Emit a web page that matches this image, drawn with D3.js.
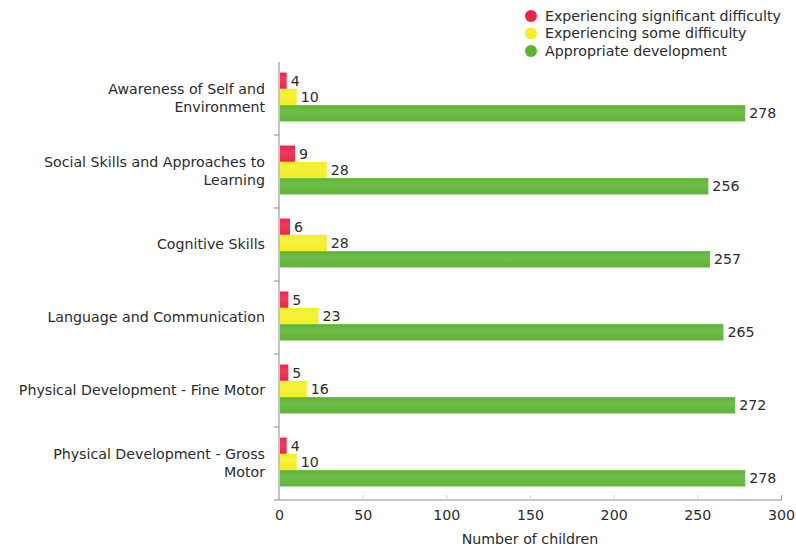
<!DOCTYPE html>
<html>
<head>
<meta charset="utf-8">
<script src="https://cdn.jsdelivr.net/npm/d3@7"></script>
<style>
  html, body { margin: 0; padding: 0; background: #fff; }
  svg { display: block; font-family: "DejaVu Sans", sans-serif; }
</style>
</head>
<body>
<svg id="chart" width="796" height="549"></svg>
<script>
// Development domains (one group of bars per domain)
const categories = [
  "Awareness of Self and Environment",
  "Social Skills and Approaches to Learning",
  "Cognitive Skills",
  "Language and Communication",
  "Physical Development - Fine Motor",
  "Physical Development - Gross Motor"
];
const seriesNames = [
  "Experiencing significant difficulty",
  "Experiencing some difficulty",
  "Appropriate development"
];
const significantDifficulty = [4, 9, 6, 5, 5, 4];
const someDifficulty = [10, 28, 28, 23, 16, 10];
const appropriateDevelopment = [278, 256, 257, 265, 272, 278];
const xTicks = [0, 50, 100, 150, 200, 250, 300];
const xTitle = "Number of children";

const colors = ["#ec2346", "#f4ef22", "#5db432"];
const seriesValues = [significantDifficulty, someDifficulty, appropriateDevelopment];
const fontSize = 14.2;

const svg = d3.select("#chart");
const margin = { left: 279, right: 15, top: 62, bottom: 49 };
const W = 796, H = 549;

const x = d3.scaleLinear().domain([0, 300]).range([margin.left, W - margin.right]);
const y = d3.scaleBand().domain(categories).range([margin.top, H - margin.bottom]);
const inner = d3.scaleBand().domain(seriesNames).range([0, y.bandwidth()]).paddingOuter(0.74).paddingInner(0);

// soft highlight across each bar
const defs = svg.append("defs");
colors.forEach((c, i) => {
  const g = defs.append("linearGradient").attr("id", "g" + i)
    .attr("x1", 0).attr("y1", 0).attr("x2", 0).attr("y2", 1);
  g.append("stop").attr("offset", "0%").attr("stop-color", c);
  g.append("stop").attr("offset", "40%").attr("stop-color", d3.interpolateRgb(c, "#fff")(0.12));
  g.append("stop").attr("offset", "100%").attr("stop-color", c);
});

// bars and value labels
seriesNames.forEach((s, si) => {
  const grp = svg.append("g");
  categories.forEach((cat, ci) => {
    const v = seriesValues[si][ci];
    const yy = y(cat) + inner(s) - 1.5;
    grp.append("rect")
      .attr("x", x(0) + 1)
      .attr("y", yy)
      .attr("width", x(v) - x(0))
      .attr("height", inner.bandwidth())
      .attr("fill", `url(#g${si})`);
    grp.append("text")
      .attr("x", x(v) + 5)
      .attr("y", yy + inner.bandwidth() / 2)
      .attr("dy", "0.35em")
      .attr("font-size", fontSize)
      .attr("fill", "#2b2b2b")
      .text(v);
  });
});

// x axis
const xAxis = svg.append("g")
  .attr("transform", `translate(0,${H - margin.bottom})`)
  .call(d3.axisBottom(x).tickValues(xTicks).tickSize(-5).tickPadding(10));
xAxis.select(".domain").attr("stroke", "#8a8a8a").attr("d", `M${x(0) - 5},0H${x(300)}`);
xAxis.selectAll(".tick line").attr("stroke", "#d8d8d8");
xAxis.selectAll(".tick").filter(d => d === 300).select("line").attr("stroke", "#8a8a8a");
xAxis.selectAll(".tick").filter(d => d === 0).select("line").remove();
xAxis.selectAll("text").attr("font-size", fontSize).attr("fill", "#2b2b2b")
  .attr("font-family", "DejaVu Sans, sans-serif");

svg.append("text")
  .attr("x", (x(0) + x(300)) / 2)
  .attr("y", H - 5)
  .attr("text-anchor", "middle")
  .attr("font-size", fontSize)
  .attr("fill", "#2b2b2b")
  .text(xTitle);

// y axis: line with small ticks between groups
const yAxis = svg.append("g");
yAxis.append("line")
  .attr("x1", x(0)).attr("x2", x(0))
  .attr("y1", margin.top).attr("y2", H - margin.bottom)
  .attr("stroke", "#8a8a8a");
categories.slice(1).forEach(cat => {
  yAxis.append("line")
    .attr("x1", x(0) - 5).attr("x2", x(0))
    .attr("y1", y(cat)).attr("y2", y(cat))
    .attr("stroke", "#8a8a8a");
});

// category labels, wrapped to the label column width
const maxLabelWidth = 249;
categories.forEach(cat => {
  const t = svg.append("text")
    .attr("text-anchor", "end")
    .attr("font-size", fontSize)
    .attr("fill", "#2b2b2b");
  const words = cat.split(" ");
  let lines = [], line = [];
  const probe = t.append("tspan");
  words.forEach(w => {
    line.push(w);
    probe.text(line.join(" "));
    if (probe.node().getComputedTextLength() > maxLabelWidth && line.length > 1) {
      line.pop();
      lines.push(line.join(" "));
      line = [w];
    }
  });
  lines.push(line.join(" "));
  probe.remove();
  const lh = 18;
  const cy = y(cat) + y.bandwidth() / 2 - (lines.length - 1) * lh / 2;
  lines.forEach((l, i) => {
    t.append("tspan")
      .attr("x", x(0) - 14)
      .attr("y", cy + i * lh)
      .attr("dy", "0.35em")
      .text(l);
  });
});

// legend
const legend = svg.append("g");
seriesNames.forEach((s, i) => {
  const ly = 16 + i * 17.5;
  legend.append("circle").attr("cx", 531).attr("cy", ly).attr("r", 6).attr("fill", colors[i]);
  legend.append("text").attr("x", 545).attr("y", ly).attr("dy", "0.35em")
    .attr("font-size", fontSize).attr("fill", "#2b2b2b").text(s);
});
</script>
</body>
</html>
